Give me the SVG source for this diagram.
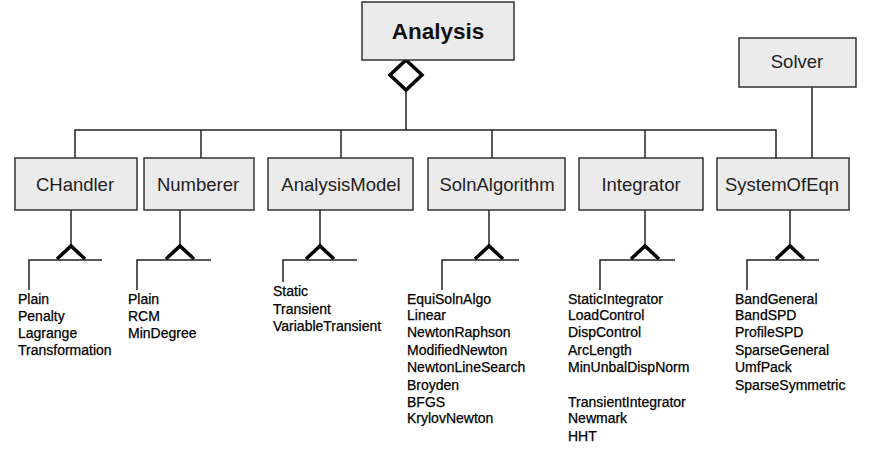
<svg xmlns="http://www.w3.org/2000/svg" width="880" height="470" viewBox="0 0 880 470">
<style>
.box{fill:#ebebeb;stroke:#333;stroke-width:1.5}
.lbl{font-family:"Liberation Sans",Arial,sans-serif;font-size:18.5px;fill:#222;text-anchor:middle}
.big{font-family:"Liberation Sans",Arial,sans-serif;font-size:22.5px;font-weight:bold;fill:#111;text-anchor:middle}
.ln{fill:none;stroke:#222;stroke-width:1.5}
.tri{fill:none;stroke:#000;stroke-width:3.5;stroke-linejoin:miter}
.lst{font-family:"Liberation Sans",Arial,sans-serif;font-size:14px;fill:#000;stroke:#000;stroke-width:0.25}
</style>
<rect width="880" height="470" fill="#fff"/>
<g id="connectors">
<polyline class="ln" points="406,90 406,130"/>
<polyline class="ln" points="75,158 75,130 776,130 776,158"/>
<line class="ln" x1="201" y1="130" x2="201" y2="158"/>
<line class="ln" x1="341" y1="130" x2="341" y2="158"/>
<line class="ln" x1="492" y1="130" x2="492" y2="158"/>
<line class="ln" x1="645" y1="130" x2="645" y2="158"/>
<line class="ln" x1="812" y1="87" x2="812" y2="158"/>
<path class="tri" d="M406,60 L422,75 L406,90 L390,75 Z" style="fill:#fff"/>
<line class="ln" x1="71" y1="210" x2="71" y2="246"/>
<polyline class="ln" points="29,290 29,260 102,260"/>
<polyline class="tri" points="57,259 71,246 85,259"/>
<line class="ln" x1="180" y1="210" x2="180" y2="246"/>
<polyline class="ln" points="137,290 137,260 211,260"/>
<polyline class="tri" points="166,259 180,246 194,259"/>
<line class="ln" x1="320" y1="210" x2="320" y2="246"/>
<polyline class="ln" points="283,282 283,260 357,260"/>
<polyline class="tri" points="306,259 320,246 334,259"/>
<line class="ln" x1="489" y1="210" x2="489" y2="246"/>
<polyline class="ln" points="442,290 442,260 519,260"/>
<polyline class="tri" points="475,259 489,246 503,259"/>
<line class="ln" x1="645" y1="210" x2="645" y2="246"/>
<polyline class="ln" points="600,290 600,260 675,260"/>
<polyline class="tri" points="631,259 645,246 659,259"/>
<line class="ln" x1="790" y1="210" x2="790" y2="246"/>
<polyline class="ln" points="747,290 747,260 819,260"/>
<polyline class="tri" points="776,259 790,246 804,259"/>
</g>
<g id="analysis"><rect class="box" x="362" y="2" width="152" height="58"/><text class="big" x="438" y="39">Analysis</text></g>
<g id="solver"><rect class="box" x="739" y="38" width="117" height="49"/><text class="lbl" x="797" y="68">Solver</text></g>
<g id="chandler"><rect class="box" x="15" y="158" width="122" height="52"/><text class="lbl" x="75" y="191">CHandler</text></g>
<g id="numberer"><rect class="box" x="144" y="158" width="110" height="52"/><text class="lbl" x="198" y="191">Numberer</text></g>
<g id="analysismodel"><rect class="box" x="268" y="158" width="145" height="52"/><text class="lbl" x="341" y="191">AnalysisModel</text></g>
<g id="solnalgorithm"><rect class="box" x="428" y="158" width="137" height="52"/><text class="lbl" x="497" y="191">SolnAlgorithm</text></g>
<g id="integrator"><rect class="box" x="579" y="158" width="124" height="52"/><text class="lbl" x="641" y="191">Integrator</text></g>
<g id="systemofeqn"><rect class="box" x="717" y="158" width="132" height="52"/><text class="lbl" x="782" y="191">SystemOfEqn</text></g>
<g id="chandler-list" class="lst">
<text x="18" y="304">Plain</text><text x="18" y="321">Penalty</text><text x="18" y="338">Lagrange</text><text x="18" y="355">Transformation</text>
</g>
<g id="numberer-list" class="lst">
<text x="128" y="304">Plain</text><text x="128" y="321">RCM</text><text x="128" y="338">MinDegree</text>
</g>
<g id="analysismodel-list" class="lst">
<text x="273" y="296">Static</text><text x="273" y="314">Transient</text><text x="273" y="331">VariableTransient</text>
</g>
<g id="solnalgorithm-list" class="lst">
<text x="407" y="304">EquiSolnAlgo</text><text x="407" y="320">Linear</text><text x="407" y="337">NewtonRaphson</text><text x="407" y="355">ModifiedNewton</text><text x="407" y="372">NewtonLineSearch</text><text x="407" y="390">Broyden</text><text x="407" y="407">BFGS</text><text x="407" y="423">KrylovNewton</text>
</g>
<g id="integrator-list" class="lst">
<text x="568" y="304">StaticIntegrator</text><text x="568" y="320">LoadControl</text><text x="568" y="337">DispControl</text><text x="568" y="355">ArcLength</text><text x="568" y="372">MinUnbalDispNorm</text><text x="568" y="407">TransientIntegrator</text><text x="568" y="423">Newmark</text><text x="568" y="441">HHT</text>
</g>
<g id="systemofeqn-list" class="lst">
<text x="735" y="304">BandGeneral</text><text x="735" y="320">BandSPD</text><text x="735" y="337">ProfileSPD</text><text x="735" y="355">SparseGeneral</text><text x="735" y="372">UmfPack</text><text x="735" y="390">SparseSymmetric</text>
</g>
</svg>
